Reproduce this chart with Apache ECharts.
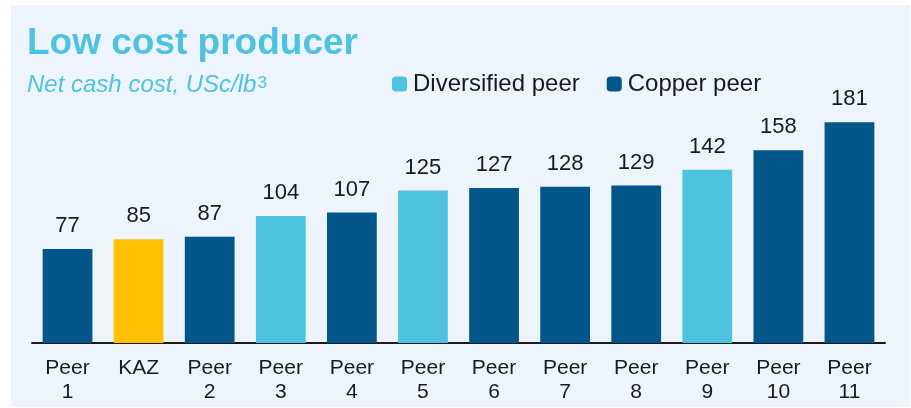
<!DOCTYPE html>
<html>
<head>
<meta charset="utf-8">
<script src="https://cdn.jsdelivr.net/npm/echarts@6/dist/echarts.min.js"></script>
<style>
  html, body { margin: 0; padding: 0; background: #fff; }
  #chart { width: 911px; height: 408px; }
</style>
</head>
<body>
<div id="chart"></div>
<script>
  // categories and values
  var categories = ['Peer\n1', 'KAZ', 'Peer\n2', 'Peer\n3', 'Peer\n4', 'Peer\n5', 'Peer\n6', 'Peer\n7', 'Peer\n8', 'Peer\n9', 'Peer\n10', 'Peer\n11']
  var costs = [77, 85, 87, 104, 107, 125, 127, 128, 129, 142, 158, 181]
  var kinds = ['copper', 'kaz', 'copper', 'diversified', 'copper', 'diversified', 'copper', 'copper', 'copper', 'diversified', 'copper', 'copper']

  var colors = { diversified: '#4dc3df', copper: '#02568a', kaz: '#ffc000' }
  var names = { diversified: 'Diversified peer', copper: 'Copper peer', kaz: 'KAZ' }

  var chart = echarts.init(document.getElementById('chart'))

  // one series per kind, stacked so each bar sits in its own category
  var series = ['diversified', 'copper', 'kaz'].map(function (k) {
    return {
      name: names[k],
      type: 'bar',
      stack: 'cost',
      barCategoryGap: '30%',
      itemStyle: { color: colors[k] },
      label: {
        show: true,
        position: 'top',
        distance: 12,
        color: '#1a1a1a',
        fontSize: 22,
        fontFamily: 'Liberation Sans'
      },
      data: costs.map(function (v, i) {
        return kinds[i] === k ? v : '-'
      })
    }
  })

  var option = {
    animation: false,
    backgroundColor: '#ffffff',
    graphic: [
      {
        type: 'rect',
        left: 11,
        top: 5,
        z: -10,
        shape: { width: 899, height: 402 },
        style: { fill: '#edf4fc' }
      }
    ],
    title: [
      {
        text: 'Low cost producer',
        left: 22,
        top: 20,
        textStyle: {
          color: '#4ec3e0',
          fontSize: 37,
          fontWeight: 'bold',
          fontFamily: 'Liberation Sans'
        }
      },
      {
        text: '{a|Net cash cost, USc/lb}{b|3}',
        left: 22,
        top: 66,
        textStyle: {
          fontWeight: 'normal',
          rich: {
            a: { color: '#4ec3e0', fontSize: 24, fontStyle: 'italic', fontWeight: 'normal', fontFamily: 'Liberation Sans', lineHeight: 28 },
            b: { color: '#4ec3e0', fontSize: 17, fontWeight: 'normal', fontFamily: 'Liberation Sans', lineHeight: 28, padding: [0, 0, 3, 1] }
          }
        }
      }
    ],
    legend: {
      data: ['Diversified peer', 'Copper peer'],
      left: 392,
      top: 72,
      padding: 0,
      icon: 'roundRect',
      itemWidth: 15,
      itemHeight: 15,
      itemGap: 27,
      textStyle: { color: '#1a1a1a', fontSize: 24, fontFamily: 'Liberation Sans', padding: [0, 0, 0, 1] }
    },
    grid: { left: 32, right: 26, top: 99, bottom: 65 },
    xAxis: {
      type: 'category',
      data: categories,
      axisLine: { lineStyle: { color: '#1a1a1a', width: 2 } },
      axisTick: { show: false },
      axisLabel: {
        color: '#1a1a1a',
        fontSize: 21,
        lineHeight: 24,
        margin: 13,
        interval: 0,
        fontFamily: 'Liberation Sans'
      }
    },
    yAxis: {
      type: 'value',
      min: 0,
      max: 200,
      show: false
    },
    series: series
  }

  chart.setOption(option)
</script>
</body>
</html>
